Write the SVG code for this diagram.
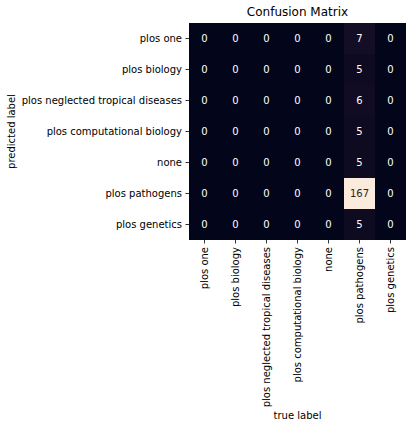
<svg xmlns="http://www.w3.org/2000/svg" width="416" height="429" viewBox="0 0 416 429">
<style>
text{font-family:"DejaVu Sans","Liberation Sans",sans-serif;font-size:10px;fill:#000}
.v{fill:#fff;text-anchor:middle;dominant-baseline:central}
.vd{fill:#262626;text-anchor:middle;dominant-baseline:central}
.yl{text-anchor:end;dominant-baseline:central}
.xl{text-anchor:end;dominant-baseline:central}
.t{stroke:#000;stroke-width:0.8}
</style>
<rect width="416" height="429" fill="#fff"/>
<text x="297.5" y="16" style="font-size:12px" text-anchor="middle">Confusion Matrix</text>
<g id="matrix">
<rect x="189" y="23" width="217" height="217" fill="#03051A"/>
<rect x="344" y="23" width="31" height="31" fill="#140D26"/>
<rect x="344" y="54" width="31" height="31" fill="#0E0A20"/>
<rect x="344" y="85" width="31" height="31" fill="#110B23"/>
<rect x="344" y="116" width="31" height="31" fill="#0E0A20"/>
<rect x="344" y="147" width="31" height="31" fill="#0E0A20"/>
<rect x="344" y="178" width="31" height="31" fill="#FAEBDD"/>
<rect x="344" y="209" width="31" height="31" fill="#0E0A20"/>
</g>
<g id="values">
<g id="row0"><text class="v" x="204.5" y="38.5">0</text><text class="v" x="235.5" y="38.5">0</text><text class="v" x="266.5" y="38.5">0</text><text class="v" x="297.5" y="38.5">0</text><text class="v" x="328.5" y="38.5">0</text><text class="v" x="359.5" y="38.5">7</text><text class="v" x="390.5" y="38.5">0</text></g>
<g id="row1"><text class="v" x="204.5" y="69.5">0</text><text class="v" x="235.5" y="69.5">0</text><text class="v" x="266.5" y="69.5">0</text><text class="v" x="297.5" y="69.5">0</text><text class="v" x="328.5" y="69.5">0</text><text class="v" x="359.5" y="69.5">5</text><text class="v" x="390.5" y="69.5">0</text></g>
<g id="row2"><text class="v" x="204.5" y="100.5">0</text><text class="v" x="235.5" y="100.5">0</text><text class="v" x="266.5" y="100.5">0</text><text class="v" x="297.5" y="100.5">0</text><text class="v" x="328.5" y="100.5">0</text><text class="v" x="359.5" y="100.5">6</text><text class="v" x="390.5" y="100.5">0</text></g>
<g id="row3"><text class="v" x="204.5" y="131.5">0</text><text class="v" x="235.5" y="131.5">0</text><text class="v" x="266.5" y="131.5">0</text><text class="v" x="297.5" y="131.5">0</text><text class="v" x="328.5" y="131.5">0</text><text class="v" x="359.5" y="131.5">5</text><text class="v" x="390.5" y="131.5">0</text></g>
<g id="row4"><text class="v" x="204.5" y="162.5">0</text><text class="v" x="235.5" y="162.5">0</text><text class="v" x="266.5" y="162.5">0</text><text class="v" x="297.5" y="162.5">0</text><text class="v" x="328.5" y="162.5">0</text><text class="v" x="359.5" y="162.5">5</text><text class="v" x="390.5" y="162.5">0</text></g>
<g id="row5"><text class="v" x="204.5" y="193.5">0</text><text class="v" x="235.5" y="193.5">0</text><text class="v" x="266.5" y="193.5">0</text><text class="v" x="297.5" y="193.5">0</text><text class="v" x="328.5" y="193.5">0</text><text class="vd" x="359.5" y="193.5">167</text><text class="v" x="390.5" y="193.5">0</text></g>
<g id="row6"><text class="v" x="204.5" y="224.5">0</text><text class="v" x="235.5" y="224.5">0</text><text class="v" x="266.5" y="224.5">0</text><text class="v" x="297.5" y="224.5">0</text><text class="v" x="328.5" y="224.5">0</text><text class="v" x="359.5" y="224.5">5</text><text class="v" x="390.5" y="224.5">0</text></g>
</g>
<g id="ticks">
<path class="t" d="M185.5 38.5H189M185.5 69.5H189M185.5 100.5H189M185.5 131.5H189M185.5 162.5H189M185.5 193.5H189M185.5 224.5H189"/>
<path class="t" d="M204.5 240V243.5M235.5 240V243.5M266.5 240V243.5M297.5 240V243.5M328.5 240V243.5M359.5 240V243.5M390.5 240V243.5"/>
</g>
<g id="ylabels">
<text class="yl" x="182" y="38.5">plos one</text>
<text class="yl" x="182" y="69.5">plos biology</text>
<text class="yl" x="182" y="100.5">plos neglected tropical diseases</text>
<text class="yl" x="182" y="131.5">plos computational biology</text>
<text class="yl" x="182" y="162.5">none</text>
<text class="yl" x="182" y="193.5">plos pathogens</text>
<text class="yl" x="182" y="224.5">plos genetics</text>
</g>
<g id="xlabels">
<text class="xl" transform="translate(204.5 247) rotate(-90)">plos one</text>
<text class="xl" transform="translate(235.5 247) rotate(-90)">plos biology</text>
<text class="xl" transform="translate(266.5 247) rotate(-90)">plos neglected tropical diseases</text>
<text class="xl" transform="translate(297.5 247) rotate(-90)">plos computational biology</text>
<text class="xl" transform="translate(328.5 247) rotate(-90)">none</text>
<text class="xl" transform="translate(359.5 247) rotate(-90)">plos pathogens</text>
<text class="xl" transform="translate(390.5 247) rotate(-90)">plos genetics</text>
</g>
<text x="297.5" y="419" text-anchor="middle">true label</text>
<text transform="translate(15 131.5) rotate(-90)" text-anchor="middle">predicted label</text>
</svg>
